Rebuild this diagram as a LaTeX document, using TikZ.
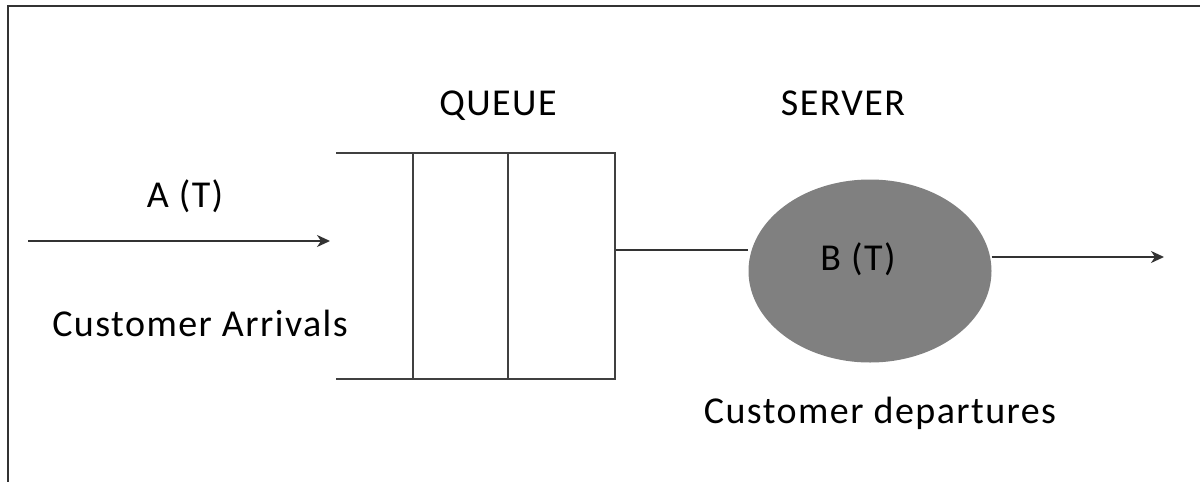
\documentclass[tikz,border=0pt]{standalone}
\usepackage{fontspec}
\setmainfont{Carlito}[LetterSpace=3.8]
\usetikzlibrary{arrows.meta,shapes.geometric,backgrounds}

\tikzset{
  frameline/.style={line width=2.4pt, draw=black!80},
  queueline/.style={line width=2pt, draw=black!75},
  flow/.style={line width=2pt, draw=black!80},
  flowarrow/.style={flow, -{Stealth[length=13pt,width=12pt,inset=4pt]}},
  label/.style={font=\fontsize{38}{45}\selectfont, anchor=base, inner sep=0pt, text=black},
  serverbody/.style={ellipse, fill=black!50, draw=none, inner sep=0pt,
    minimum width=243pt, minimum height=183pt}
}

\begin{document}
\begin{tikzpicture}[x=1pt,y=-1pt]
  \useasboundingbox (0,0) rectangle (1200,482);

  % outer frame (top and left edges)
  \draw[frameline] (1201,6) -- (8,6) -- (8,483);

  % queue: two rails and three slot walls
  \coordinate (qtl) at (336,153);
  \coordinate (qtr) at (615,153);
  \coordinate (qbl) at (336,379);
  \coordinate (qbr) at (615,379);
  \coordinate (w1t) at (413,153);
  \coordinate (w1b) at (413,379);
  \coordinate (w2t) at (508,153);
  \coordinate (w2b) at (508,379);
  \draw[queueline] (qtl) -- (qtr) -- (qbr) -- (qbl);
  \draw[queueline] (w1t) -- (w1b);
  \draw[queueline] (w2t) -- (w2b);

  % server
  \node[serverbody] (server) at (870,271) {};
  \node[label] (blabel) at (858,270) {B (T)};

  % connectors
  \coordinate (arrstart) at (28,241);
  \coordinate (arrend) at (330,241);
  \coordinate (qout) at (615,250);
  \coordinate (depend) at (1164,257);
  \draw[flowarrow] (arrstart) -- (arrend);
  \begin{scope}[on background layer]
    \draw[flow] (qout) -- (qout -| server.west);
    \draw[flowarrow] (depend -| server.east) -- (depend);
  \end{scope}

  % captions
  \node[label] (queuelabel) at (498,115) {QUEUE};
  \node[label] (serverlabel) at (843,115) {SERVER};
  \node[label] (alabel) at (185,207) {A (T)};
  \node[label] (arrivals) at (200,336) {Customer Arrivals};
  \node[label] (departures) at (880,423) {Customer departures};
\end{tikzpicture}
\end{document}
